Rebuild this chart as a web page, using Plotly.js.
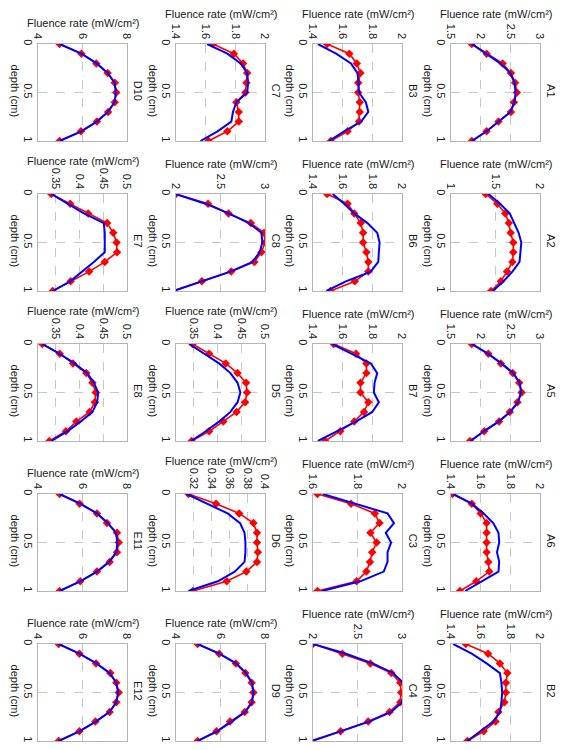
<!DOCTYPE html>
<html>
<head>
<meta charset="utf-8">
<script src="https://cdn.plot.ly/plotly-3.0.1.min.js"></script>
<style>html,body{margin:0;padding:0;background:#fff;}#chart{width:569px;height:750px;}</style>
</head>
<body>
<div id="chart"></div>
<script>
// depth positions (cm)
const depth = [0, 0.1, 0.2, 0.3, 0.4, 0.5, 0.6, 0.7, 0.8, 0.9, 1];
const depthTicks = [0, 0.5, 1];
const depthTickText = ['0', '0.5', '1'];

// panel names in layout order (columns right to left, rows top to bottom)
const panelNames = ['A1','A2','A5','A6','B2','B3','B6','B7','C3','C4','C7','C8','D5','D6','D9','D10','E7','E8','E11','E12'];

// red = measured (markers), blue = model (line)
const A1_red  = [1.85, 2.10, 2.37, 2.51, 2.58, 2.61, 2.56, 2.51, 2.30, 2.10, 1.85];
const A1_blue = [1.85, 2.08, 2.33, 2.50, 2.57, 2.59, 2.57, 2.50, 2.30, 2.10, 1.85];
const A2_red  = [1.39, 1.52, 1.61, 1.65, 1.67, 1.70, 1.70, 1.69, 1.63, 1.56, 1.45];
const A2_blue = [1.42, 1.55, 1.66, 1.71, 1.76, 1.79, 1.78, 1.77, 1.69, 1.59, 1.47];
const A5_red  = [1.85, 2.13, 2.34, 2.54, 2.65, 2.69, 2.62, 2.49, 2.31, 2.06, 1.82];
const A5_blue = [1.85, 2.12, 2.35, 2.55, 2.66, 2.68, 2.63, 2.50, 2.30, 2.05, 1.83];
const A6_red  = [1.41, 1.54, 1.60, 1.64, 1.64, 1.64, 1.64, 1.652, 1.658, 1.57, 1.46];
const A6_blue = [1.415, 1.54, 1.62, 1.685, 1.72, 1.725, 1.71, 1.725, 1.72, 1.61, 1.495];
const B2_red  = [1.50, 1.65, 1.73, 1.78, 1.77, 1.77, 1.76, 1.72, 1.70, 1.62, 1.51];
const B2_blue = [1.415, 1.54, 1.64, 1.73, 1.74, 1.745, 1.74, 1.73, 1.685, 1.60, 1.51];
const B3_red  = [1.495, 1.645, 1.695, 1.72, 1.705, 1.705, 1.715, 1.715, 1.71, 1.633, 1.52];
const B3_blue = [1.433, 1.556, 1.656, 1.70, 1.707, 1.71, 1.756, 1.773, 1.725, 1.61, 1.507];
const B6_red  = [1.495, 1.633, 1.678, 1.722, 1.738, 1.738, 1.76, 1.773, 1.773, 1.682, 1.518];
const B6_blue = [1.533, 1.61, 1.678, 1.767, 1.833, 1.849, 1.844, 1.84, 1.789, 1.622, 1.49];
const B7_red  = [1.54, 1.69, 1.76, 1.76, 1.72, 1.72, 1.773, 1.744, 1.678, 1.584, 1.482];
const B7_blue = [1.53, 1.66, 1.79, 1.833, 1.815, 1.81, 1.844, 1.80, 1.689, 1.56, 1.433];
const C3_red  = [1.62, 1.771, 1.878, 1.899, 1.858, 1.886, 1.866, 1.856, 1.84, 1.796, 1.62];
const C3_blue = [1.644, 1.788, 1.935, 1.964, 1.927, 1.951, 1.935, 1.935, 1.918, 1.812, 1.641];
const C4_red  = [2.00, 2.33, 2.645, 2.88, 2.98, 2.99, 2.98, 2.86, 2.62, 2.31, 1.97];
const C4_blue = [2.00, 2.37, 2.67, 2.90, 3.01, 3.02, 3.00, 2.88, 2.63, 2.31, 1.99];
const C7_red  = [1.649, 1.79, 1.852, 1.88, 1.875, 1.868, 1.807, 1.823, 1.823, 1.746, 1.619];
const C7_blue = [1.61, 1.746, 1.836, 1.88, 1.886, 1.88, 1.807, 1.784, 1.773, 1.68, 1.565];
const C8_red  = [2.00, 2.36, 2.59, 2.84, 2.99, 3.00, 2.96, 2.88, 2.62, 2.29, 1.97];
const C8_blue = [1.99, 2.33, 2.59, 2.82, 2.96, 2.97, 2.94, 2.86, 2.61, 2.29, 1.97];
const D5_red  = [0.347, 0.382, 0.417, 0.442, 0.460, 0.462, 0.458, 0.440, 0.412, 0.382, 0.345];
const D5_blue = [0.340, 0.372, 0.403, 0.427, 0.442, 0.448, 0.442, 0.427, 0.403, 0.375, 0.344];
const D6_red  = [0.314, 0.345, 0.371, 0.387, 0.391, 0.391, 0.392, 0.391, 0.379, 0.357, 0.319];
const D6_blue = [0.312, 0.336, 0.358, 0.372, 0.377, 0.378, 0.378, 0.377, 0.366, 0.347, 0.314];
const D9_red  = [4.97, 5.94, 6.69, 7.12, 7.40, 7.48, 7.40, 7.09, 6.43, 5.82, 4.97];
const D9_blue = [4.97, 5.95, 6.70, 7.15, 7.42, 7.47, 7.42, 7.12, 6.50, 5.85, 4.97];
const D10_red  = [4.97, 5.95, 6.62, 7.13, 7.45, 7.52, 7.45, 7.15, 6.65, 5.93, 4.97];
const D10_blue = [4.97, 5.95, 6.64, 7.14, 7.44, 7.50, 7.44, 7.14, 6.64, 5.95, 4.97];
const E7_red  = [0.340, 0.380, 0.418, 0.458, 0.471, 0.478, 0.479, 0.453, 0.420, 0.381, 0.343];
const E7_blue = [0.340, 0.374, 0.409, 0.451, 0.453, 0.453, 0.453, 0.430, 0.406, 0.380, 0.343];
const E8_red  = [0.321, 0.358, 0.386, 0.414, 0.427, 0.434, 0.432, 0.421, 0.393, 0.371, 0.336];
const E8_blue = [0.321, 0.357, 0.389, 0.416, 0.430, 0.439, 0.437, 0.427, 0.402, 0.374, 0.340];
const E11_red  = [4.97, 5.87, 6.65, 7.10, 7.55, 7.63, 7.55, 7.22, 6.65, 5.90, 4.97];
const E11_blue = [4.97, 5.90, 6.65, 7.15, 7.50, 7.57, 7.52, 7.20, 6.65, 5.90, 4.97];
const E12_red  = [4.93, 5.86, 6.61, 7.25, 7.52, 7.63, 7.52, 7.22, 6.58, 5.86, 4.93];
const E12_blue = [4.93, 5.86, 6.63, 7.22, 7.52, 7.60, 7.52, 7.22, 6.60, 5.86, 4.93];

// fluence axis tick sets
const ticksA = [1.5, 2, 2.5, 3];        const ticksAText = ['1.5','2','2.5','3'];
const ticksB = [1, 1.5, 2];             const ticksBText = ['1','1.5','2'];
const ticksC = [1.4, 1.6, 1.8, 2];      const ticksCText = ['1.4','1.6','1.8','2'];
const ticksD = [1.6, 1.8, 2];           const ticksDText = ['1.6','1.8','2'];
const ticksE = [2, 2.5, 3];             const ticksEText = ['2','2.5','3'];
const ticksF = [0.35, 0.4, 0.45, 0.5];  const ticksFText = ['0.35','0.4','0.45','0.5'];
const ticksG = [0.32, 0.34, 0.36, 0.38, 0.4]; const ticksGText = ['0.32','0.34','0.36','0.38','0.4'];
const ticksH = [4, 6, 8];               const ticksHText = ['4','6','8'];

const redSeries  = [A1_red, A2_red, A5_red, A6_red, B2_red, B3_red, B6_red, B7_red, C3_red, C4_red, C7_red, C8_red, D5_red, D6_red, D9_red, D10_red, E7_red, E8_red, E11_red, E12_red];
const blueSeries = [A1_blue, A2_blue, A5_blue, A6_blue, B2_blue, B3_blue, B6_blue, B7_blue, C3_blue, C4_blue, C7_blue, C8_blue, D5_blue, D6_blue, D9_blue, D10_blue, E7_blue, E8_blue, E11_blue, E12_blue];
const ranges = [[1.5,3],[1,2],[1.5,3],[1.4,2],[1.4,2],[1.4,2],[1.4,2],[1.4,2],[1.6,2],[2,3],[1.4,2],[2,3],[0.312,0.5],[0.3,0.4],[4,8],[4,8],[0.312,0.5],[0.312,0.5],[4,8],[4,8]];
const tickSets = [ticksA, ticksB, ticksA, ticksC, ticksC, ticksC, ticksC, ticksC, ticksD, ticksE, ticksC, ticksE, ticksF, ticksG, ticksH, ticksH, ticksF, ticksF, ticksH, ticksH];
const tickTexts = [ticksAText, ticksBText, ticksAText, ticksCText, ticksCText, ticksCText, ticksCText, ticksCText, ticksDText, ticksEText, ticksCText, ticksEText, ticksFText, ticksGText, ticksHText, ticksHText, ticksFText, ticksFText, ticksHText, ticksHText];
const depthTitle = 'depth (cm)';
const fluenceTitle = 'Fluence rate (mW/cm²)';

const W = 569, H = 750;
const colLeft = [451, 313, 176, 38];
const boxW = 89, boxH = 97;
const FONT = 'Liberation Sans, Arial, sans-serif';
const N = panelNames.length;

const data = [];
const layout = {
  width: W, height: H,
  margin: {l: 0, r: 0, t: 0, b: 0},
  paper_bgcolor: '#ffffff', plot_bgcolor: '#ffffff',
  showlegend: false,
  font: {family: FONT, size: 11, color: '#1a1a1a'},
  annotations: []
};

const labelAxis = (base, xa, side, text, standoff) => ({
  overlaying: base, anchor: xa, side: side,
  range: [1, 0], tickmode: 'array', tickvals: [0.5], ticktext: [text],
  tickangle: 90, ticks: '', showgrid: false, showline: false, zeroline: false,
  ticklabelstandoff: standoff, tickfont: {size: 11, family: FONT}
});

for (let k = 0; k < N; k++) {
  const col = Math.floor(k / 5), row = k % 5;
  const left = colLeft[col];
  const top = 44 + 150 * row;
  const sfx = k === 0 ? '' : String(k + 1);
  const xa = 'x' + sfx, ya = 'y' + sfx;
  const yDepthId = String(N + k + 1), yNameId = String(2 * N + k + 1);
  const longest = Math.max(...tickTexts[k].map(s => s.length));
  const titleGap = longest <= 1 ? 21 : (longest >= 4 ? 33 : 30);

  data.push({x: redSeries[k], y: depth, xaxis: xa, yaxis: ya, type: 'scatter', mode: 'lines+markers',
    line: {color: '#ff0000', width: 1.6}, marker: {symbol: 'diamond', size: 6.5, color: '#ff0000'}});
  data.push({x: blueSeries[k], y: depth, xaxis: xa, yaxis: ya, type: 'scatter', mode: 'lines',
    line: {color: '#0000ff', width: 2}});
  // empty traces so the label-only overlay axes get drawn
  data.push({x: [], y: [], xaxis: xa, yaxis: 'y' + yDepthId, type: 'scatter', mode: 'lines', hoverinfo: 'skip'});
  data.push({x: [], y: [], xaxis: xa, yaxis: 'y' + yNameId, type: 'scatter', mode: 'lines', hoverinfo: 'skip'});

  layout['xaxis' + sfx] = {
    domain: [left / W, (left + boxW) / W], anchor: ya, side: 'top',
    range: ranges[k], tickmode: 'array', tickvals: tickSets[k], ticktext: tickTexts[k],
    tickangle: 90, ticks: '', showgrid: true, griddash: 'dash', gridcolor: '#c8c8c8', gridwidth: 1,
    showline: true, mirror: true, linecolor: '#b4b4b4', linewidth: 1, zeroline: false,
    tickfont: {size: 11, family: FONT}
  };
  layout['yaxis' + sfx] = {
    domain: [1 - (top + boxH) / H, 1 - top / H], anchor: xa,
    range: [1, 0], tickmode: 'array', tickvals: depthTicks, ticktext: depthTickText,
    tickangle: 90, ticks: '', showgrid: true, griddash: 'dash', gridcolor: '#c8c8c8', gridwidth: 1,
    showline: true, mirror: true, linecolor: '#b4b4b4', linewidth: 1, zeroline: false,
    tickfont: {size: 11, family: FONT}
  };
  layout['yaxis' + yDepthId] = labelAxis(ya, xa, 'left', depthTitle, 15);
  layout['yaxis' + yNameId] = labelAxis(ya, xa, 'right', panelNames[k], 4);

  layout.annotations.push({
    text: fluenceTitle, xref: 'paper', yref: 'paper',
    x: (left + boxW / 2) / W, y: 1 - (top - titleGap) / H,
    xanchor: 'center', yanchor: 'middle', showarrow: false,
    font: {size: 11, family: FONT}
  });
}

Plotly.newPlot('chart', data, layout, {staticPlot: true, displayModeBar: false});
</script>
</body>
</html>
